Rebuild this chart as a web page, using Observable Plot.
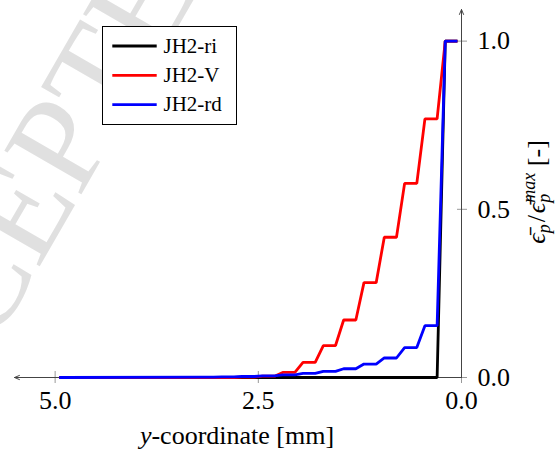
<!DOCTYPE html>
<html><head><meta charset="utf-8">
<script src="https://cdn.jsdelivr.net/npm/d3@7"></script>
<script src="https://cdn.jsdelivr.net/npm/@observablehq/plot@0.6"></script>
<style>body{margin:0;background:#fff} svg{display:block}
svg text, svg tspan { font-family: "Liberation Serif", "DejaVu Serif", serif !important; }
</style>
</head><body><div id="chart"></div>
<script>
// y-coordinate [mm] of the plotted points
const yCoord = [0.05, 0.2, 0.3, 0.45, 0.55, 0.7, 0.8, 0.95, 1.05, 1.2, 1.3, 1.45, 1.55, 1.7,
                1.8, 1.95, 2.05, 2.2, 2.3, 2.45, 2.55, 2.7, 2.8, 2.95, 3.05, 3.2, 4.95];
const seriesNames = ["JH2-ri", "JH2-V", "JH2-rd"];
const seriesColors = ["#000000", "#ff0000", "#0000ff"];
const jh2ri = [1, 1, 0, 0, 0, 0, 0, 0, 0, 0, 0, 0, 0, 0, 0, 0, 0, 0, 0, 0, 0, 0, 0, 0, 0, 0, 0];
const jh2V  = [1, 1, 0.769, 0.769, 0.577, 0.577, 0.417, 0.417, 0.282, 0.282, 0.171, 0.171, 0.095, 0.095,
               0.045, 0.045, 0.015, 0.015, 0.004, 0.004, 0.001, 0.001, 0, 0, 0, 0, 0];
const jh2rd = [1, 1, 0.154, 0.154, 0.089, 0.089, 0.058, 0.058, 0.040, 0.040, 0.026, 0.026, 0.018, 0.018,
               0.012, 0.012, 0.008, 0.008, 0.005, 0.005, 0.003, 0.003, 0.002, 0.002, 0.001, 0.001, 0];
const xTicks = [5.0, 2.5, 0.0];
const yTicks = [0.0, 0.5, 1.0];
const xMax = 5.5, yMax = 1.094;

const rows = [];
[jh2ri, jh2V, jh2rd].forEach((vals, k) =>
  vals.forEach((v, i) => rows.push({series: seriesNames[k], x: yCoord[i], v})));

const serif = "Liberation Serif, DejaVu Serif, serif";
const fmt = d3.format(".1f");

const chart = Plot.plot({
  width: 558, height: 454,
  marginLeft: 14, marginRight: 97, marginTop: 9, marginBottom: 77,
  style: {fontFamily: serif, background: "#fff", color: "#000"},
  x: {domain: [0, xMax], reverse: true},
  y: {domain: [0, yMax]},
  color: {domain: seriesNames, range: seriesColors},
  marks: [
    Plot.axisX({ticks: xTicks, tickSize: 12, dy: -6, tickPadding: 7.5, tickFormat: fmt,
                stroke: "#999", fill: "#000", fontSize: 26, label: null}),
    Plot.axisY({anchor: "right", ticks: yTicks, tickSize: 10, dx: -5, tickPadding: 11, tickFormat: fmt,
                stroke: "#999", fill: "#000", fontSize: 26, label: null}),
    Plot.arrow([0], {x1: () => 0, y1: () => 0, x2: () => xMax, y2: () => 0,
                     stroke: "#444", strokeWidth: 1, headLength: 8, headAngle: 45}),
    Plot.arrow([0], {x1: () => 0, y1: () => 0, x2: () => 0, y2: () => yMax,
                     stroke: "#444", strokeWidth: 1, headLength: 8, headAngle: 45}),
    Plot.line(rows, {x: "x", y: "v", z: "series", stroke: "series", strokeWidth: 2.8,
                     strokeLinejoin: "miter", strokeLinecap: "butt"})
  ]
});
document.getElementById("chart").appendChild(chart);

const svg = d3.select(chart);
// watermark (behind everything)
svg.insert("text", ":first-child")
  .attr("transform", "translate(-101,510) rotate(-60)")
  .attr("text-anchor", "start")
  .attr("font-size", 135).attr("fill", "#e0e0e0")
  .text("ACCEPTED MANUSCRIPT");

// legend
const lg = svg.append("g");
lg.append("rect").attr("x", 102.5).attr("y", 26.5).attr("width", 134).attr("height", 98)
  .attr("fill", "#fff").attr("stroke", "#000").attr("stroke-width", 1);
seriesNames.forEach((name, i) => {
  const cy = 46 + i * 29.3;
  lg.append("line").attr("x1", 112.3).attr("x2", 156.7).attr("y1", cy).attr("y2", cy)
    .attr("stroke", seriesColors[i]).attr("stroke-width", 2.8);
  lg.append("text").attr("x", 163.5).attr("y", cy + 6.8).attr("text-anchor", "start")
    .attr("font-size", 21).attr("fill", "#000").text(name);
});

// x label
const xl = svg.append("text").attr("x", 237).attr("y", 444).attr("text-anchor", "middle")
  .attr("font-size", 26).attr("fill", "#000");
xl.append("tspan").attr("font-style", "italic").text("y");
xl.append("tspan").text("-coordinate [mm]");

// y label
const yl = svg.append("text").attr("transform", "translate(545,192) rotate(-90)")
  .attr("text-anchor", "middle").attr("font-size", 26).attr("fill", "#000");
yl.append("tspan").attr("font-style", "italic").text("\u03F5\u0304");
yl.append("tspan").attr("font-style", "italic").attr("font-size", 18).attr("dy", 5).text("p");
yl.append("tspan").attr("dy", -5).attr("dx", 2).text("/");
yl.append("tspan").attr("font-style", "italic").attr("dx", 2).text("\u03F5\u0304");
yl.append("tspan").attr("font-style", "italic").attr("font-size", 18).attr("dy", 5).text("p");
yl.append("tspan").attr("font-style", "italic").attr("font-size", 18).attr("dx", -9).attr("dy", -15).text("max");
yl.append("tspan").attr("dy", 10).text(" [-]");
</script>
</body></html>
